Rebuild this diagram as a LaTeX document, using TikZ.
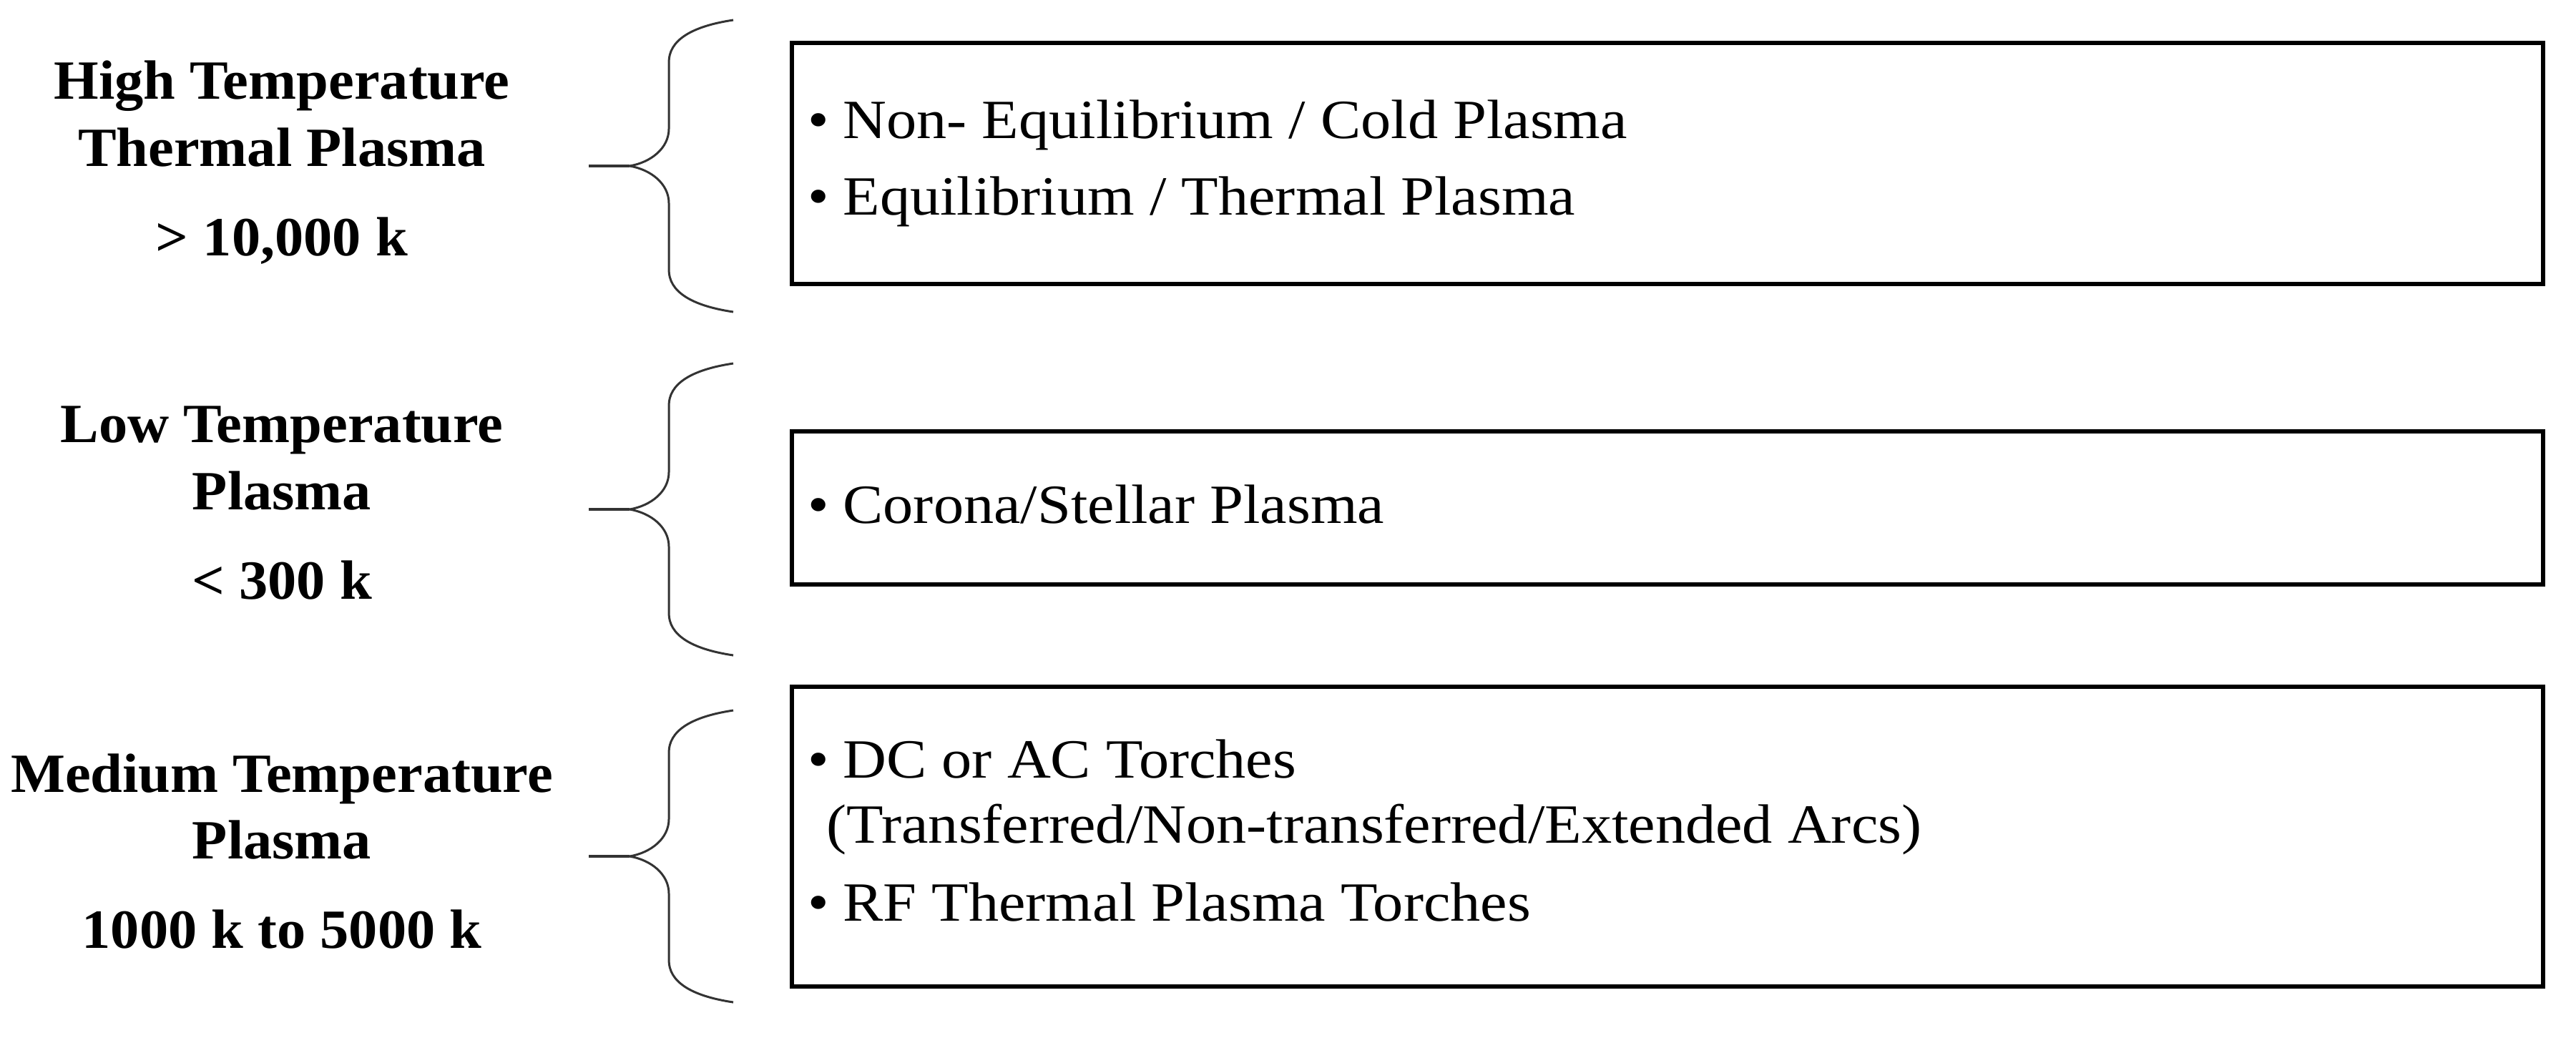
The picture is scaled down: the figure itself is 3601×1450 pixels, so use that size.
\documentclass[tikz,border=0pt]{standalone}
\usepackage{fontspec}
\setmainfont{Liberation Serif}
\newfontfamily\itemfont[FakeStretch=1.09]{Liberation Serif}
\newfontfamily\lblfont[FakeStretch=1.04]{Liberation Serif}
\begin{document}
\begin{tikzpicture}[x=0.01cm,y=-0.01cm,
  box/.style={draw=black,line width=1.7pt,inner sep=0pt,minimum width=24.46cm},
  lbl/.style={font=\lblfont\fontsize{22}{26}\selectfont\bfseries,anchor=base,inner sep=0pt},
  itm/.style={font=\itemfont\fontsize{22}{26}\selectfont,anchor=base west,inner sep=0pt},
  plbrace/.pic={
    \draw[line width=0.85pt,black!80] (145,-204) .. controls (85,-195) and (55,-175) .. (55,-145) -- (55,-52)
      .. controls (55,-25) and (30,-5) .. (0,0) .. controls (30,5) and (55,25) .. (55,52) -- (55,145)
      .. controls (55,175) and (85,195) .. (145,204);
    \draw[line width=1.2pt,black!80] (-57,0) -- (0,0);
  }]
\useasboundingbox (0,0) rectangle (3601,1450);
% boxes
\node[box,minimum height=3.37cm] (b1) at (2331,228.5) {};
\node[box,minimum height=2.14cm] (b2) at (2331,710) {};
\node[box,minimum height=4.19cm] (b3) at (2331,1169.5) {};
% braces
\pic (br1) at (880,232) {plbrace};
\pic (br2) at (880,712) {plbrace};
\pic (br3) at (880,1197) {plbrace};
% left labels
\node[lbl] (h1) at (394,138) {High Temperature};
\node[lbl] (h2) at (394,232) {Thermal Plasma};
\node[lbl] (h3) at (394,357) {> 10,000 k};
\node[lbl] (l1) at (394,618) {Low Temperature};
\node[lbl] (l2) at (394,712) {Plasma};
\node[lbl] (l3) at (394,837) {< 300 k};
\node[lbl] (m1) at (394,1107) {Medium Temperature};
\node[lbl] (m2) at (394,1200) {Plasma};
\node[lbl] (m3) at (394,1325) {1000 k to 5000 k};
% box items
\node[itm] (t11) at (1129,193) {•\hspace{0.25em}Non- Equilibrium / Cold Plasma};
\node[itm] (t12) at (1129,300) {•\hspace{0.25em}Equilibrium / Thermal Plasma};
\node[itm] (t21) at (1129,731) {•\hspace{0.25em}Corona/Stellar Plasma};
\node[itm] (t31) at (1129,1087) {•\hspace{0.25em}DC or AC Torches};
\node[itm] (t32) at (1155,1178) {(Transferred/Non-transferred/Extended Arcs)};
\node[itm] (t33) at (1129,1287) {•\hspace{0.25em}RF Thermal Plasma Torches};
\end{tikzpicture}
\end{document}
